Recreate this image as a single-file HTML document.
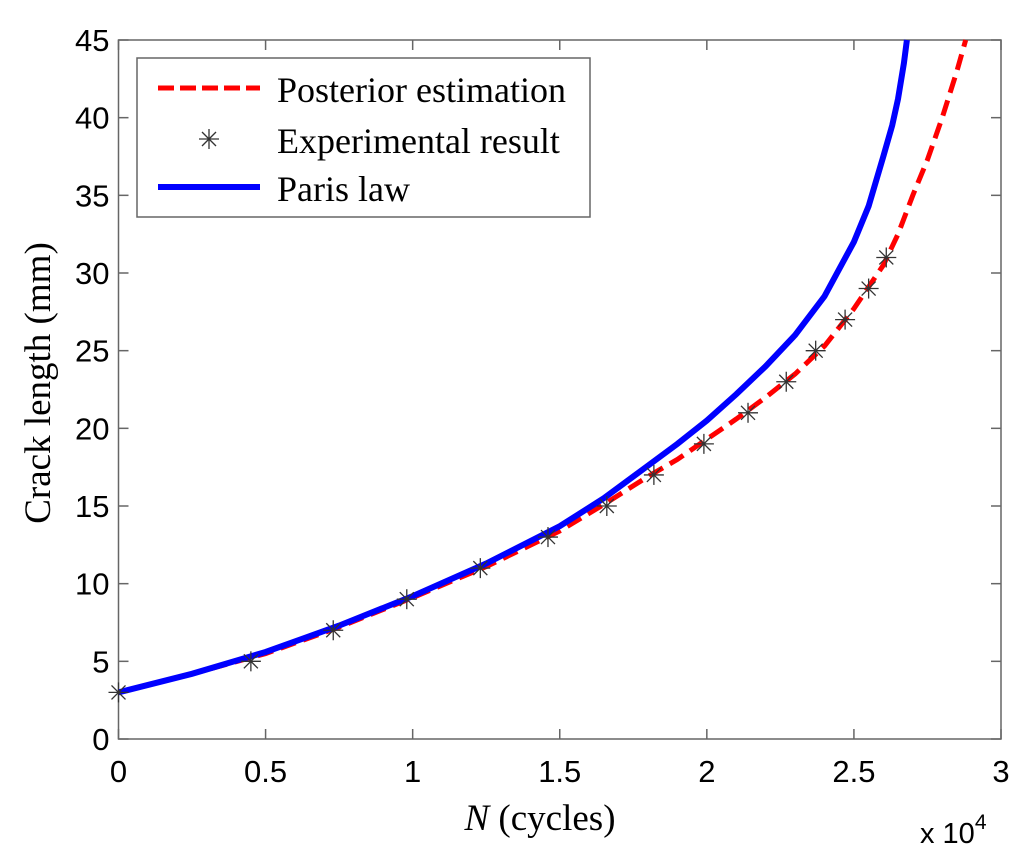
<!DOCTYPE html>
<html><head><meta charset="utf-8"><style>
body{margin:0;background:#fff;width:1024px;height:854px;overflow:hidden}
svg text{font-family:"Liberation Sans",sans-serif}
svg text.serif{font-family:"Liberation Serif",serif}
</style></head><body>
<svg id="chart" width="1024" height="854" xmlns="http://www.w3.org/2000/svg">
<g id="axes"></g><g id="series"></g><g id="legend"></g>
</svg>
<script>
const xTicks=[0,0.5,1,1.5,2,2.5,3];
const xTickLabels=["0","0.5","1","1.5","2","2.5","3"];
const yTicks=[0,5,10,15,20,25,30,35,40,45];
const yTickLabels=["0","5","10","15","20","25","30","35","40","45"];
const expN=[0,0.45,0.73,0.98,1.23,1.46,1.66,1.82,1.99,2.14,2.27,2.37,2.47,2.55,2.61];
const expA=[3,5,7,9,11,13,15,17,19,21,23,25,27,29,31];
const parisN=[0,0.25,0.5,0.75,1,1.25,1.5,1.65,1.8,1.9,2,2.1,2.2,2.3,2.4,2.5,2.55,2.6,2.63,2.65,2.67,2.68];
const parisA=[3,4.2,5.6,7.3,9.2,11.3,13.7,15.5,17.6,19,20.5,22.2,24,26,28.5,32,34.3,37.5,39.5,41.2,43.5,45];
const postN=[0,0.25,0.5,0.75,1,1.25,1.5,1.65,1.8,1.9,2,2.1,2.2,2.3,2.4,2.5,2.6,2.65,2.7,2.75,2.8,2.85,2.88];
const postA=[3,4.2,5.5,7.2,9.1,11.1,13.4,15.1,16.9,18,19.3,20.6,22,23.5,25.3,27.7,30.5,32.5,35,37.3,40,43,45];
const L=118.5,R=1001,T=40,B=739;
const X=v=>L+(v-0)/3*(R-L);
const Y=v=>B-(v/45)*(B-T);
const NS="http://www.w3.org/2000/svg";
function mk(tag,attrs,parent){const e=document.createElementNS(NS,tag);for(const k in attrs)e.setAttribute(k,attrs[k]);parent.appendChild(e);return e;}
const ax=document.getElementById('axes'),se=document.getElementById('series'),lg=document.getElementById('legend');
const frame=mk('rect',{x:L,y:T,width:R-L,height:B-T,fill:'none',stroke:'#666','stroke-width':1.5},ax);


xTicks.forEach((t,i)=>{
 const x=X(t);
 mk('line',{x1:x,x2:x,y1:B,y2:B-10,stroke:'#666','stroke-width':1.5},ax);
 mk('line',{x1:x,x2:x,y1:T,y2:T+10,stroke:'#666','stroke-width':1.5},ax);
 const tx=mk('text',{x:x,y:B+43,'font-size':31,'text-anchor':'middle'},ax);tx.textContent=xTickLabels[i];
 
 
});
yTicks.forEach((t,i)=>{
 const y=Y(t);
 mk('line',{x1:L,x2:L+10,y1:y,y2:y,stroke:'#666','stroke-width':1.5},ax);
 mk('line',{x1:R,x2:R-10,y1:y,y2:y,stroke:'#666','stroke-width':1.5},ax);
 const tx=mk('text',{x:L-9,y:y+11,'font-size':31,'text-anchor':'end'},ax);tx.textContent=yTickLabels[i];
 
 
});
const xt=mk('text',{x:540,y:830,'font-size':37,'text-anchor':'middle','class':'serif'},ax);
xt.innerHTML='<tspan font-style="italic">N</tspan> (cycles)';


const ex=mk('text',{x:920,y:843,'font-size':29},ax);ex.innerHTML='x 10<tspan dy="-14" font-size="21">4</tspan>';


const yt=mk('text',{x:0,y:0,'font-size':37,'text-anchor':'middle','class':'serif',transform:'translate(50,383) rotate(-90)'},ax);
yt.textContent='Crack length (mm)';


function pts(ns,as){return ns.map((n,i)=>X(n).toFixed(1)+','+Y(as[i]).toFixed(1)).join(' ');}
const post=mk('polyline',{points:pts(postN,postA),fill:'none',stroke:'#ff0000','stroke-width':5,'stroke-dasharray':'16,8'},se);


const paris=mk('polyline',{points:pts(parisN,parisA),fill:'none',stroke:'#0000ff','stroke-width':6},se);


function star(cx,cy,g){const r=10,d=7;
 mk('line',{x1:cx-r,x2:cx+r,y1:cy,y2:cy,stroke:'#333','stroke-width':1.3},g);
 mk('line',{x1:cx,x2:cx,y1:cy-r,y2:cy+r,stroke:'#333','stroke-width':1.3},g);
 mk('line',{x1:cx-d,x2:cx+d,y1:cy-d,y2:cy+d,stroke:'#333','stroke-width':1.3},g);
 mk('line',{x1:cx-d,x2:cx+d,y1:cy+d,y2:cy-d,stroke:'#333','stroke-width':1.3},g);}
expN.forEach((n,i)=>{const g=mk('g',{},se);
 
 
 star(X(n),Y(expA[i]),g);});
const box=mk('rect',{x:137,y:58,width:453,height:159,fill:'#fff',stroke:'#666','stroke-width':1.5},lg);


const entries=[['Posterior estimation',90],['Experimental result',141],['Paris law',189]];
mk('line',{x1:158,x2:260,y1:88,y2:88,stroke:'#ff0000','stroke-width':5,'stroke-dasharray':'16,6'},lg);
const sg=mk('g',{},lg);star(209,139,sg);
mk('line',{x1:158,x2:260,y1:187,y2:187,stroke:'#0000ff','stroke-width':6},lg);
entries.forEach(e=>{const t=mk('text',{x:277,y:e[1]+12,'font-size':36,'class':'serif'},lg);t.textContent=e[0];
 
 });
</script>
</body></html>
